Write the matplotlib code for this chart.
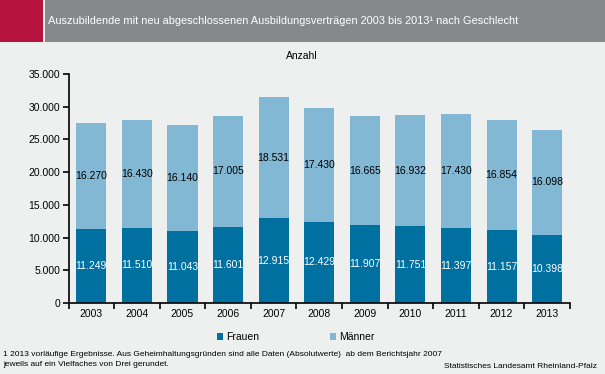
import matplotlib
matplotlib.use("Agg")
import matplotlib.pyplot as plt
from matplotlib.patches import Rectangle
from matplotlib.ticker import FuncFormatter, FixedLocator, NullFormatter

years = ["2003", "2004", "2005", "2006", "2007", "2008", "2009", "2010", "2011", "2012", "2013"]
frauen = [11249, 11510, 11043, 11601, 12915, 12429, 11907, 11751, 11397, 11157, 10398]
maenner = [16270, 16430, 16140, 17005, 18531, 17430, 16665, 16932, 17430, 16854, 16098]
yticks = [0, 5000, 10000, 15000, 20000, 25000, 30000, 35000]

title = "Auszubildende mit neu abgeschlossenen Ausbildungsverträgen 2003 bis 2013¹ nach Geschlecht"
foot1 = "1 2013 vorläufige Ergebnisse. Aus Geheimhaltungsgründen sind alle Daten (Absolutwerte)  ab dem Berichtsjahr 2007"
foot2 = "jeweils auf ein Vielfaches von Drei gerundet."
source = "Statistisches Landesamt Rheinland-Pfalz"

plt.rcParams['font.family'] = ['Liberation Sans', 'DejaVu Sans']

W, H = 605, 374
bg = "#EEF0EF"
c_f = "#0070A0"
c_m = "#82B8D4"

fig = plt.figure(figsize=(W / 100, H / 100), dpi=100, facecolor=bg)

# header
fig.patches.append(Rectangle((0, 1 - 42 / H), 43 / W, 42 / H, transform=fig.transFigure,
                             facecolor="#B5123E", edgecolor="none"))
fig.patches.append(Rectangle((45 / W, 1 - 42 / H), 1 - 45 / W, 42 / H, transform=fig.transFigure,
                             facecolor="#87888A", edgecolor="none"))
fig.text(48 / W, 1 - 21 / H, title, color="white", fontsize=7.95, va="center", ha="left")

ax_left, ax_right, ax_top, ax_bottom = 68.5, 570, 74, 303
ax = fig.add_axes([ax_left / W, 1 - ax_bottom / H, (ax_right - ax_left) / W, (ax_bottom - ax_top) / H])
ax.set_facecolor(bg)

x = list(range(len(years)))
bw = 0.66
ax.bar(x, frauen, width=bw, color=c_f, label="Frauen")
ax.bar(x, maenner, width=bw, bottom=frauen, color=c_m, label="Männer")

def fmt(v):
    return f"{int(v):,}".replace(",", ".")

for i in x:
    ax.text(i, frauen[i] / 2, fmt(frauen[i]), color="white", ha="center", va="center", fontsize=7.5)
    ax.text(i, frauen[i] + maenner[i] / 2, fmt(maenner[i]), color="black", ha="center", va="center", fontsize=7.5)

ax.set_xlim(-0.5, len(years) - 0.5)
ax.set_ylim(0, 35000)
ax.set_yticks(yticks)
ax.yaxis.set_major_formatter(FuncFormatter(lambda v, p: fmt(v)))
ax.xaxis.set_major_locator(FixedLocator([i - 0.5 for i in range(len(years) + 1)]))
ax.xaxis.set_major_formatter(NullFormatter())
ax.xaxis.set_minor_locator(FixedLocator(x))
ax.set_xticklabels(years, minor=True)
ax.tick_params(axis="x", which="minor", length=0, labelsize=7.5, pad=4)
ax.tick_params(axis="x", which="major", length=4, width=1.2, direction="out")
ax.tick_params(axis="y", length=4, width=1.2, direction="out", labelsize=7.5, pad=2)
for s in ["top", "right"]:
    ax.spines[s].set_visible(False)
for s in ["left", "bottom"]:
    ax.spines[s].set_linewidth(1.2)

fig.text(302 / W, 1 - 56 / H, "Anzahl", fontsize=7.5, ha="center", va="center")

# legend
fig.legend(handles=ax.get_legend_handles_labels()[0], labels=["Frauen", "Männer"],
           loc="center", bbox_to_anchor=(296 / W, 1 - 337 / H), ncol=2, frameon=False,
           fontsize=7.5, handlelength=0.6, handleheight=0.6, handletextpad=0.3, columnspacing=6.8)

fig.text(3 / W, 1 - 354 / H, foot1, fontsize=6.0, ha="left", va="center")
fig.text(3 / W, 1 - 364.5 / H, foot2, fontsize=6.0, ha="left", va="center")
fig.text(597 / W, 1 - 366 / H, source, fontsize=6.0, ha="right", va="center")

fig.savefig("out.png", dpi=100, facecolor=bg)
